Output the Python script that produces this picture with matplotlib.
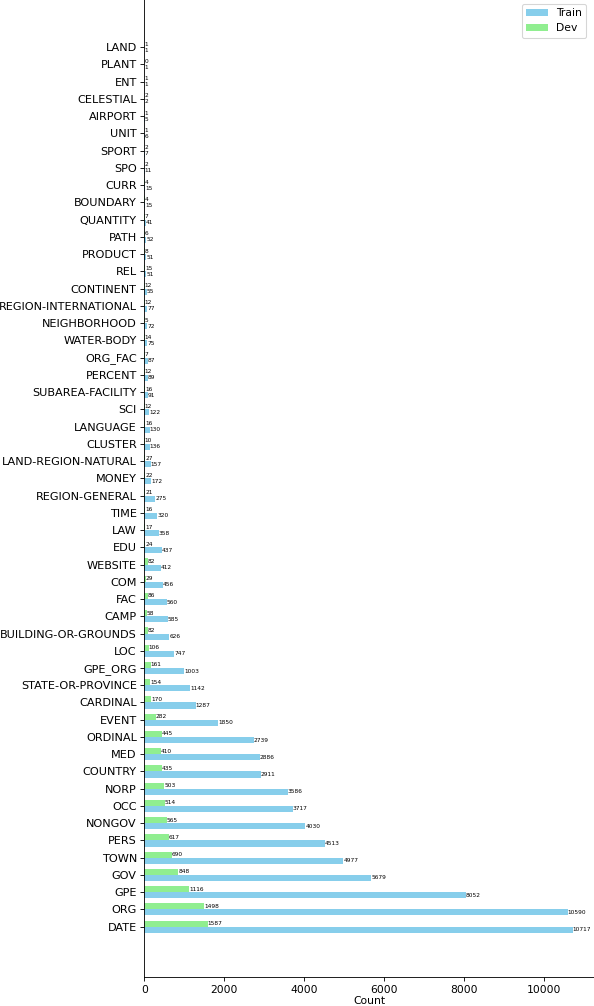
import numpy as np
import matplotlib.pyplot as plt

# entity types, ordered from bottom (most frequent) to top
labels = ["DATE", "ORG", "GPE", "GOV", "TOWN", "PERS", "NONGOV", "OCC", "NORP",
          "COUNTRY", "MED", "ORDINAL", "EVENT", "CARDINAL", "STATE-OR-PROVINCE",
          "GPE_ORG", "LOC", "BUILDING-OR-GROUNDS", "CAMP", "FAC", "COM", "WEBSITE",
          "EDU", "LAW", "TIME", "REGION-GENERAL", "MONEY", "LAND-REGION-NATURAL",
          "CLUSTER", "LANGUAGE", "SCI", "SUBAREA-FACILITY", "PERCENT", "ORG_FAC",
          "WATER-BODY", "NEIGHBORHOOD", "REGION-INTERNATIONAL", "CONTINENT", "REL",
          "PRODUCT", "PATH", "QUANTITY", "BOUNDARY", "CURR", "SPO", "SPORT", "UNIT",
          "AIRPORT", "CELESTIAL", "ENT", "PLANT", "LAND"]

train_counts = [10717, 10590, 8052, 5679, 4977, 4513, 4030, 3717, 3586,
                2911, 2886, 2739, 1850, 1287, 1142,
                1003, 747, 626, 585, 560, 456, 412,
                437, 358, 320, 275, 172, 157,
                136, 130, 122, 91, 89, 87,
                75, 72, 77, 55, 51,
                51, 52, 41, 15, 15, 11, 7, 6,
                5, 2, 1, 1, 1]

dev_counts = [1587, 1498, 1116, 848, 690, 617, 565, 514, 503,
              435, 410, 445, 282, 170, 154,
              161, 106, 82, 58, 86, 29, 82,
              24, 17, 16, 21, 22, 27,
              10, 16, 12, 16, 12, 7,
              14, 5, 12, 12, 15,
              8, 6, 7, 4, 4, 2, 2, 1,
              1, 2, 1, 0, 1]

y = np.arange(len(labels))
h = 0.35

fig = plt.figure(figsize=(594 / 77, 1006 / 77), dpi=77)
ax = fig.add_axes([0.243, 0.0285, 0.757, 0.975])

train_bars = ax.barh(y - h / 2, train_counts, height=h, color="skyblue", label="Train")
dev_bars = ax.barh(y + h / 2, dev_counts, height=h, color="lightgreen", label="Dev")

for bar, v in zip(train_bars, train_counts):
    ax.text(bar.get_width(), bar.get_y() + bar.get_height() / 2, str(v),
            va="center", ha="left", fontsize=5.5)
for bar, v in zip(dev_bars, dev_counts):
    ax.text(bar.get_width(), bar.get_y() + bar.get_height() / 2, str(v),
            va="center", ha="left", fontsize=5.5)

ax.set_yticks(y)
ax.set_yticklabels(labels, fontsize=10.5)
ax.set_xlabel("Count", labelpad=1)
ax.spines["top"].set_visible(False)
ax.spines["right"].set_visible(False)
ax.legend(loc="upper right", bbox_to_anchor=(0.995, 0.998))

fig.savefig("out.png", dpi=77)
